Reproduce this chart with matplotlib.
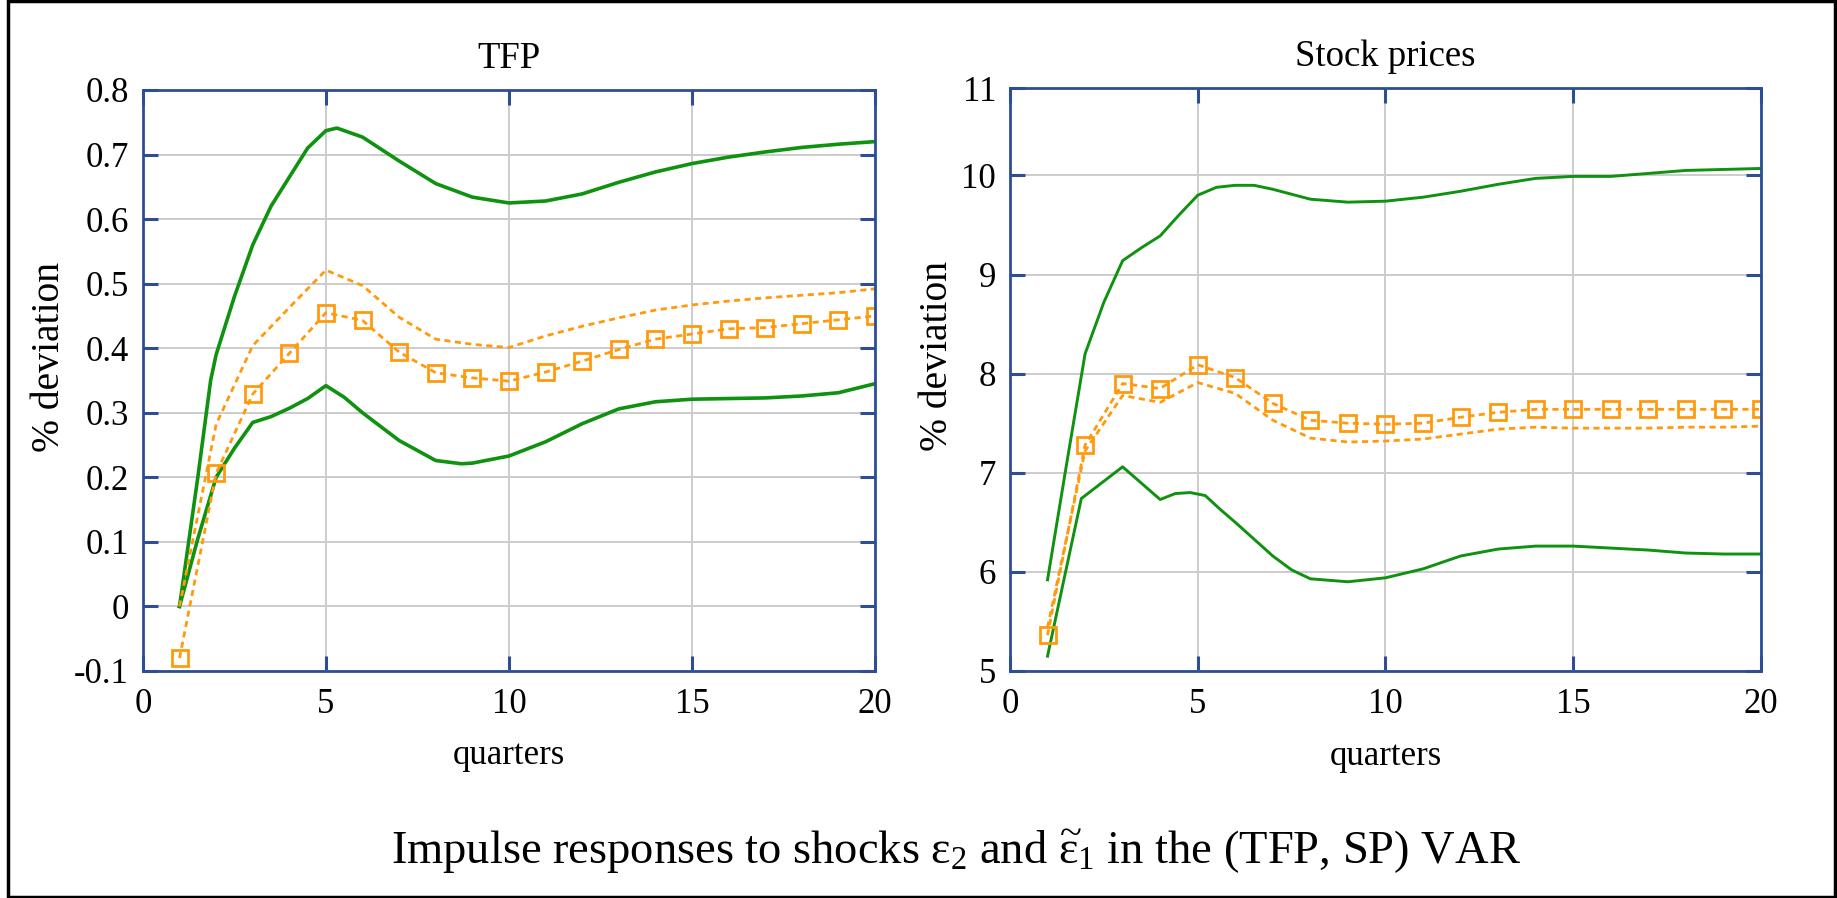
import matplotlib
matplotlib.use('Agg')
import matplotlib.pyplot as plt
from matplotlib.patches import Rectangle

# Datos
quarters = list(range(1, 21))

# TFP
tfp_hi_x = [1, 1.5, 1.85, 2, 2.5, 3, 3.5, 4, 4.5, 5, 5.3, 6, 7, 8, 9, 10,
            11, 12, 13, 14, 15, 16, 17, 18, 19, 20]
tfp_hi = [0.0, 0.20, 0.35, 0.39, 0.48, 0.56, 0.62, 0.665, 0.71, 0.737, 0.741,
          0.727, 0.690, 0.655, 0.634, 0.625, 0.628, 0.639, 0.657, 0.673,
          0.686, 0.696, 0.704, 0.711, 0.716, 0.720]
tfp_lo_x = [1, 1.5, 2, 2.5, 3, 3.5, 4, 4.5, 5, 5.5, 6, 7, 8, 8.7, 9, 10,
            11, 12, 13, 14, 15, 16, 17, 18, 19, 20]
tfp_lo = [0.0, 0.105, 0.20, 0.245, 0.285, 0.294, 0.307, 0.322, 0.342, 0.324,
          0.300, 0.257, 0.226, 0.221, 0.222, 0.233, 0.255, 0.283, 0.306,
          0.317, 0.321, 0.322, 0.323, 0.326, 0.331, 0.345]
tfp_alt = [0.0, 0.282, 0.404, 0.463, 0.521, 0.497, 0.448, 0.414, 0.406, 0.401,
           0.419, 0.434, 0.447, 0.459, 0.467, 0.473, 0.478, 0.482, 0.486, 0.492]
tfp_pt = [-0.080, 0.206, 0.329, 0.392, 0.455, 0.443, 0.394, 0.362, 0.354, 0.349,
          0.363, 0.380, 0.398, 0.414, 0.422, 0.430, 0.432, 0.438, 0.444, 0.450]

# Stock prices
sp_hi_x = [1, 1.5, 2, 2.5, 3, 3.5, 4, 4.5, 5, 5.5, 6, 6.5, 7, 8, 9, 10,
           11, 12, 13, 14, 15, 16, 17, 18, 19, 20]
sp_hi = [5.92, 7.07, 8.20, 8.72, 9.14, 9.27, 9.39, 9.60, 9.80, 9.88, 9.90, 9.90,
         9.86, 9.76, 9.73, 9.74, 9.78, 9.84, 9.91, 9.97, 9.99, 9.99, 10.02,
         10.05, 10.06, 10.07]
sp_lo_x = [1, 1.9, 3, 4, 4.4, 4.8, 5.2, 5.6, 6, 7, 7.5, 8, 9, 10,
           11, 12, 13, 14, 15, 16, 17, 18, 19, 20]
sp_lo = [5.15, 6.74, 7.06, 6.73, 6.79, 6.80, 6.77, 6.63, 6.50, 6.16, 6.02, 5.93,
         5.90, 5.94, 6.03, 6.16, 6.23, 6.26, 6.26, 6.24, 6.22, 6.19, 6.18, 6.18]
sp_alt = [5.44, 7.22, 7.78, 7.71, 7.91, 7.80, 7.53, 7.35, 7.31, 7.32,
          7.34, 7.39, 7.44, 7.46, 7.45, 7.45, 7.45, 7.46, 7.46, 7.47]
sp_pt = [5.36, 7.28, 7.90, 7.85, 8.09, 7.96, 7.70, 7.53, 7.50, 7.49,
         7.50, 7.56, 7.61, 7.64, 7.64, 7.64, 7.64, 7.64, 7.64, 7.64]

tfp_yticks = [-0.1, 0, 0.1, 0.2, 0.3, 0.4, 0.5, 0.6, 0.7, 0.8]
tfp_ylabels = ['-0.1', '0', '0.1', '0.2', '0.3', '0.4', '0.5', '0.6', '0.7', '0.8']
sp_yticks = [5, 6, 7, 8, 9, 10, 10.88]
sp_ylabels = ['5', '6', '7', '8', '9', '10', '11']
xticks = [0, 5, 10, 15, 20]

GREEN = '#0f920f'
ORANGE = '#ff9a0d'
BLUE = '#2d4e95'
GRID = '#cccccc'

plt.rcParams['font.family'] = ['Liberation Serif', 'DejaVu Serif']
plt.rcParams['mathtext.fontset'] = 'custom'
plt.rcParams['mathtext.rm'] = 'Liberation Serif'
plt.rcParams['mathtext.it'] = 'Liberation Serif'


def style_axes(ax, ylim, yticks, ylabels, title, ylabel_x):
    ax.set_xlim(0, 20)
    ax.set_ylim(*ylim)
    ax.set_xticks(xticks)
    ax.set_xticklabels([str(t) for t in xticks])
    ax.set_yticks(yticks)
    ax.set_yticklabels(ylabels)
    ax.grid(True, color=GRID, lw=1.4)
    ax.set_axisbelow(True)
    for sp in ax.spines.values():
        sp.set_color(BLUE)
        sp.set_linewidth(2)
    ax.tick_params(direction='in', length=11, width=2.2, color=BLUE,
                   top=True, right=True, labelsize=25)
    ax.tick_params(axis='x', pad=12)
    ax.tick_params(axis='y', pad=10)
    ax.set_title(title, fontsize=26.5, pad=16)
    ax.set_xlabel('quarters', fontsize=25)
    ax.xaxis.label.set_va('center')
    ax.xaxis.set_label_coords(0.5, -0.146)
    ax.set_ylabel('% deviation', fontsize=28.5)
    ax.yaxis.label.set_va('center')
    ax.yaxis.set_label_coords(ylabel_x, 0.54)


fig = plt.figure(figsize=(18.37, 8.98), dpi=100)
ax1 = fig.add_axes([0.0778, 0.2528, 0.3985, 0.647])
ax2 = fig.add_axes([0.5498, 0.2528, 0.4088, 0.649])

# TFP
ax1.plot(tfp_hi_x, tfp_hi, color=GREEN, lw=2.6)
ax1.plot(tfp_lo_x, tfp_lo, color=GREEN, lw=2.6)
ax1.plot(quarters, tfp_alt, color=ORANGE, lw=2, dashes=(2.2, 1.6))
ax1.plot(quarters, tfp_pt, color=ORANGE, lw=2, dashes=(2.2, 1.6),
         marker='s', ms=11, mfc='none', mec=ORANGE, mew=2)
style_axes(ax1, (-0.1, 0.8), tfp_yticks, tfp_ylabels, 'TFP', -0.128)

# Stock prices
ax2.plot(sp_hi_x, sp_hi, color=GREEN, lw=2.1)
ax2.plot(sp_lo_x, sp_lo, color=GREEN, lw=2.1)
ax2.plot(quarters, sp_alt, color=ORANGE, lw=2, dashes=(2.2, 1.6))
ax2.plot(quarters, sp_pt, color=ORANGE, lw=2, dashes=(2.2, 1.6),
         marker='s', ms=11, mfc='none', mec=ORANGE, mew=2)
style_axes(ax2, (5, 10.88), sp_yticks, sp_ylabels, 'Stock prices', -0.097)

fig.text(0.5206, 0.051,
         r'Impulse responses to shocks $\varepsilon_2$ and $\widetilde{\varepsilon}_1$ in the (TFP, SP) VAR',
         ha='center', va='center', fontsize=33.5)

fig.patches.append(Rectangle((0.0044, 0.0011), 0.9945, 0.9978,
                             transform=fig.transFigure, fill=False,
                             edgecolor='black', lw=2.5))

fig.savefig('out.png', dpi=100)
